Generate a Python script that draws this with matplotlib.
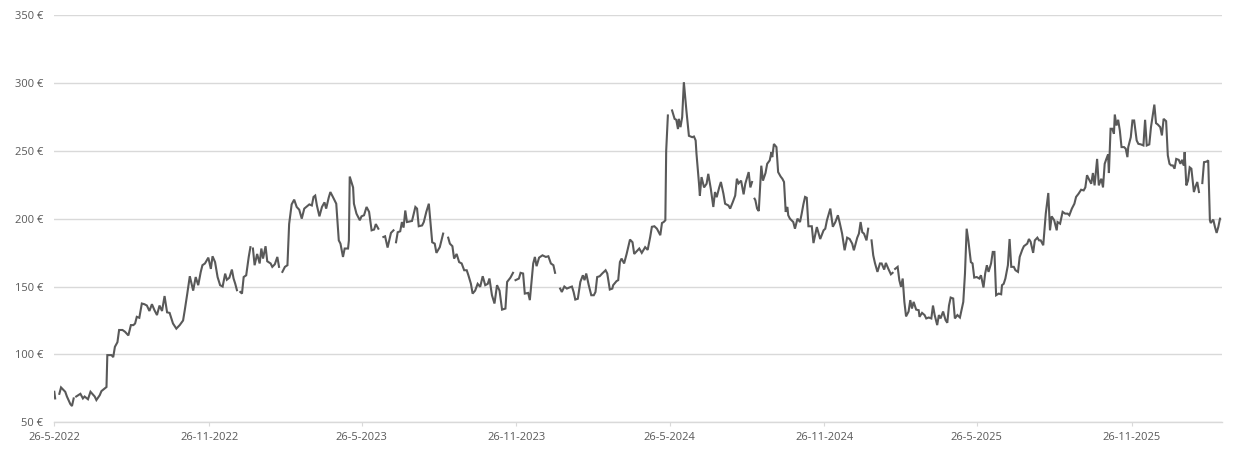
import numpy as np
import pandas as pd
import matplotlib
matplotlib.use('Agg')
import matplotlib.pyplot as plt

nan = np.nan

# days after 26-5-2022, and closing price in euro (nan = missing data, line breaks)
days = [
    0, 1, 3, 6, 8, 13, 15, 19, 21, 23, 24, 26, 31, 34, 36, 40, 43, 48, 50, 54, 56, 60, 62,
    63, 68, 70, 72, 75, 77, 81, 84, 88, 91, 94, 96, 98, 101, 104, 107, 110, 113, 116, 119,
    122, 125, 128, 131, 134, 137, 141, 145, 149, 153, 155, 158, 161, 165, 168, 171, 174,
    176, 179, 183, 186, 188, 191, 194, 197, 200, 203, 205, 208, 211, 213, 215, 217, 219,
    221, 223, 225, 228, 231, 233, 234, 236, 238, 241, 244, 246, 248, 251, 253, 257, 259,
    262, 265, 267, 269, 271, 274, 277, 279, 282, 285, 288, 291, 294, 297, 300, 303, 306,
    308, 310, 312, 315, 318, 321, 323, 326, 328, 331, 335, 338, 340, 343, 345, 349, 350,
    351, 355, 356, 359, 363, 365, 368, 371, 374, 377, 380, 382, 385, 388, 391, 393, 396,
    400, 403, 404, 406, 408, 411,
    413, 415, 417, 419, 425, 429, 431, 433, 437, 439, 442, 445, 449, 452, 454, 458, 460,
    462, 464, 468, 470, 473, 475, 478, 481, 484, 487, 490, 492, 495, 497, 500, 503, 506,
    509, 512, 515, 517, 520, 523, 526, 529, 532, 536, 538, 542, 545, 546, 548, 552, 554,
    557, 559, 563, 565, 569, 571, 573, 576, 580, 584, 587, 590, 593, 595, 598, 601, 603,
    606, 609, 612, 615, 617, 619, 622, 625, 628, 630, 632, 635, 638, 641, 643, 645, 648,
    651, 655, 657, 660, 663, 664, 668, 670, 672, 674, 677, 680, 684, 687, 689, 692, 695,
    698, 702, 705, 708, 710, 713, 716, 720, 722, 724, 726, 727, 729, 730, 734, 737, 739,
    741, 742, 744, 746, 748, 751, 754, 758, 760, 762, 763, 766, 767, 769, 772, 775, 777,
    780, 783, 785, 787, 790, 792, 795, 797, 801, 803, 806, 809, 811, 813, 816, 819, 821,
    825, 827, 829, 830, 832, 833, 835, 837, 840, 842, 845, 847, 850, 852, 853, 855, 858,
    860, 863, 865, 867, 869, 871, 872, 874, 878, 880, 883, 886, 888, 890, 892, 894, 896,
    900, 902, 906,
    910, 914, 916, 918, 922, 925, 928, 931, 933, 936, 939, 942, 945, 948, 950, 954, 956,
    958, 960, 962, 965, 967, 969, 971, 973, 975, 978, 981, 983, 986, 988, 991, 994, 996,
    997, 999, 1002, 1004, 1006, 1008, 1010, 1012, 1015, 1017, 1019, 1021, 1024, 1027,
    1028, 1031, 1034, 1036, 1039, 1042, 1044, 1046, 1049, 1051, 1053, 1056, 1059, 1061,
    1063, 1065, 1068, 1070, 1073, 1076, 1080, 1082, 1084, 1086, 1089, 1091, 1093, 1096,
    1099, 1101, 1104, 1106, 1108, 1110, 1113, 1115, 1117, 1119, 1122, 1125, 1126, 1128,
    1130, 1133, 1135, 1137, 1140, 1142, 1145, 1147, 1150, 1152, 1156, 1158, 1160, 1163,
    1165, 1168, 1170, 1172, 1175, 1178, 1181, 1183, 1185, 1188, 1191, 1192, 1195, 1198,
    1201, 1204, 1206, 1209, 1212, 1214, 1217, 1220, 1223, 1225, 1227, 1229, 1232, 1234,
    1236, 1239, 1241, 1244, 1246, 1248, 1250, 1252, 1253, 1255, 1257, 1259, 1260, 1262,
    1264, 1266, 1268, 1271, 1273, 1275, 1276, 1279, 1281, 1283, 1286, 1288, 1291, 1294,
    1296, 1298, 1301, 1303, 1305, 1307, 1309, 1311, 1314, 1316, 1318, 1321, 1323, 1325,
    1327, 1329, 1331, 1333, 1336, 1338, 1340, 1342, 1343, 1345, 1347, 1349, 1351, 1354,
    1356, 1358, 1360, 1361, 1364, 1366, 1369, 1371, 1373, 1374, 1377, 1379, 1381, 1383,
    1385,
]

price = [
    72.5, 67.6, nan, 71, 75.7, 72.5, 69, 63.5, 62, 67.6, nan, 69, 71, 67.6, 69, 67, 72.5,
    69, 66.4, 70, 73, 75, 76,
    99.5, 99.5, 98, 105.6, 109, 118, 118, 116.7, 114, 121.6, 121.6, 122.8, 127.7, 127,
    137.5, 137, 136, 132, 137, 132.6, 129, 136, 132, 143, 131, 130.6, 122.8, 119, 121.6,
    125, 132.6, 144.8, 157.6, 147, 157, 151, 160.8, 165.7, 167, 171.3, 163, 172.3, 168,
    157, 151, 150, 159.5, 155, 156.5, 162.5, 155.9, 152, 147.3, nan,
    146, 144.8, 157, 158.3, 171.8, 179, nan, 178, 165.7, 174, 167, 178, 170.6, 179.7,
    168.6, 167, 164.5, 166.4, 171.8, 164.5, nan, 160.8, 164.5, 165.7, 196, 210.5, 214,
    208.6, 206.6, 200, 207.4, 209, 210.5, 209.7, 216, 217, 209.7, 201.7, 208.6, 212,
    207.4, 215.4, 219.6, 216, 211, 184, 181.6, 171.8, 178, 178, 184, 231, 223, 211,
    203.7, 198.8, 201.7, 202.5, 208.6, 205, 191.4, 192, 196, 192.6, nan, 186.5, 187,
    178.7, 189.5, 191.4, nan, 182.6, 190, 190.7,
    197.5, 193.4, 206, 197.5, 198.3, 208.6, 207.4, 194.4, 195, 197.5, 205, 211, 182.6,
    181.6, 174.8, 179, 184, 189, nan, 186, 181.6, 179.7, 170.6, 174, 168, 167, 162, 162,
    158.3, 152, 144.8, 147, 152, 149.8, 157.6, 151, 152, 155.9, 143.6, 137.5, 151, 147,
    133, 133.8, 153.4, 156.6, 160.1, nan, 154.7, 155.9, 160.1, 159.6, 144.8, 145.3, 140,
    167, 171.8, 165, 171.3, 173, 171.8, 172.3, 167, 165.7, 160.1, nan, 148.5, 146, 150,
    148.5, 149.3, 150, 146, 140.4, 141, 153.4, 158.3, 154.7, 159.6, 151, 143.6, 143.6,
    146, 157, 157.6, 159.6, 162, 159.6, 147.8, 148.5, 151, 154, 154.7, 168, 170.6, 167,
    174, 184.6, 182.6, 174, 176, 178, 174.8, 179, 177, 186.5, 194, 194.4, 192.6, 187.8,
    196.8, 197.5, 198.8, 250, 276, nan, 279.7, 273.5, 272.8, 266, 273.5, 267.4, 274.8,
    300.5, 279.7, 261, 260, 260.5, 257.6, 247.8, 225.7, 217, 230.6, 223, 225.7, 233, 222,
    208.6, 219.6, 215.8, 223, 227, 218.4, 211, 209.7, 207.4, 212, 217, 229.4, 226, 228,
    217.9, 225.7, 234.3, 223, 227, nan, 214.7, 213.5, 207.4, 205.6, 239, 228, 233.6,
    240.4, 242.9, 249, 245.3, 255, 252.7, 234.3, 231, 229.4, 227, 205, 208.6, 202.5, 200,
    197.5, 192.6, 200, 197.5, 203.7, 210.5, 216, 215.4, 194.4, 194.4, 182, 193.8,
    185, 191.4, 192.6, 198.8, 207.4, 194, 197.5, 202.5, 197.5, 189, 176.7, 186, 185,
    181.6, 176.7, 186, 189, 197.5, 190, 189, 184, 192.6, nan, 184, 173, 167.4, 160.8, 167,
    167, 162.5, 167.4, 163, 159, 160.1, nan, 163, 164.5, 154.7, 149.8, 155.9, 138.7, 128,
    131.6, 140, 133.8, 138.7, 133, 132.6, 127.7, 130.6, 129, 126.5, 127.2, 126.5, 136,
    129, 121.6, 129, 126.5, 131.6, 125.2, 123.3, 136, 141.9, 141.2, 126.5, 129, 127.2,
    138.7, 159.6, 192.6, 184, 168, 167, 156.6, 157, 155.9, 158.3, 149.3, 159.6, 165.7,
    160.8, 167, 175.5, 175.5, 143.6, 144.8, 144.3, 151, 152, 155.9, 165.7, 185, 164.5,
    164.5, 162, 160.8, 171.8, 177, 179.7, 181.6, 185, 183, 174.8, 184, 186, 184, 184,
    180.4, 203.7, 218.9, 191.4, 201.7, 198.8, 191.4, 197.5, 196.3, 205, 203.7, 203.7,
    202.5, 207.4, 211, 216, 218.4, 221.3, 220.8, 223, 232, 229.4, 225.7, 233.6, 224.5,
    244, 224.5, 229.4, 223, 240.4, 244, 247.3, 233.6, 266.2, 266.2, 262.5, 276.7, 268.6,
    272.8, 264.9, 252.7, 252.7, 251.5, 245.3, 252.7, 260, 272.3, 272.3, 257.6, 255.1,
    254.7, 253.9, 272.8, 253.9, 254.7, 267.4, 275.9, 284, 270.3, 269.4, 267.4, 261.3,
    273.5, 271.8, 246.6, 240.4, 239.2, 239.2, 236.8, 244, 243.3, 240.4, 243.3, 239.2,
    249, 224.5, 228, 237.8, 236.8, 219.6, 223.8, 227, 219.6, nan, 226.2, 241.6, 242,
    242.9, 198.8, 196.8, 199.3, 193.9, 189.5, 193.9, 200,
]

tick_dates = ['2022-05-26', '2022-11-26', '2023-05-26', '2023-11-26',
              '2024-05-26', '2024-11-26', '2025-05-26', '2025-11-26']
tick_labels = ['26-5-2022', '26-11-2022', '26-5-2023', '26-11-2023',
               '26-5-2024', '26-11-2024', '26-5-2025', '26-11-2025']
y_ticks = [50, 100, 150, 200, 250, 300, 350]

start = pd.Timestamp('2022-05-26')
dates = start + pd.to_timedelta(days, unit='D')
end = start + pd.Timedelta(days=1387)

plt.rcParams['font.family'] = ['Open Sans', 'DejaVu Sans']

fig = plt.figure(figsize=(12.57, 4.61), dpi=100)
ax = fig.add_axes([0.0432, 0.0839, 0.9287, 0.8836])

ax.plot(dates, price, color='#595959', lw=1.5, solid_joinstyle='miter')

ax.set_xlim(start, end)
ax.set_ylim(50, 350)
ax.set_yticks(y_ticks)
ax.set_yticklabels([f'{v} €' for v in y_ticks])
ax.set_xticks(pd.to_datetime(tick_dates))
ax.set_xticklabels(tick_labels)

ax.grid(axis='y', color='#d9d9d9', lw=1)
ax.set_axisbelow(True)
for side in ['top', 'right', 'left']:
    ax.spines[side].set_visible(False)
ax.spines['bottom'].set_color('#d9d9d9')
ax.spines['bottom'].set_linewidth(1)

ax.tick_params(axis='y', length=0, pad=8, labelsize=8, labelcolor='#595959')
ax.tick_params(axis='x', length=3, color='#d9d9d9', pad=4, labelsize=8,
               labelcolor='#595959')

fig.savefig('out.png', dpi=100)
